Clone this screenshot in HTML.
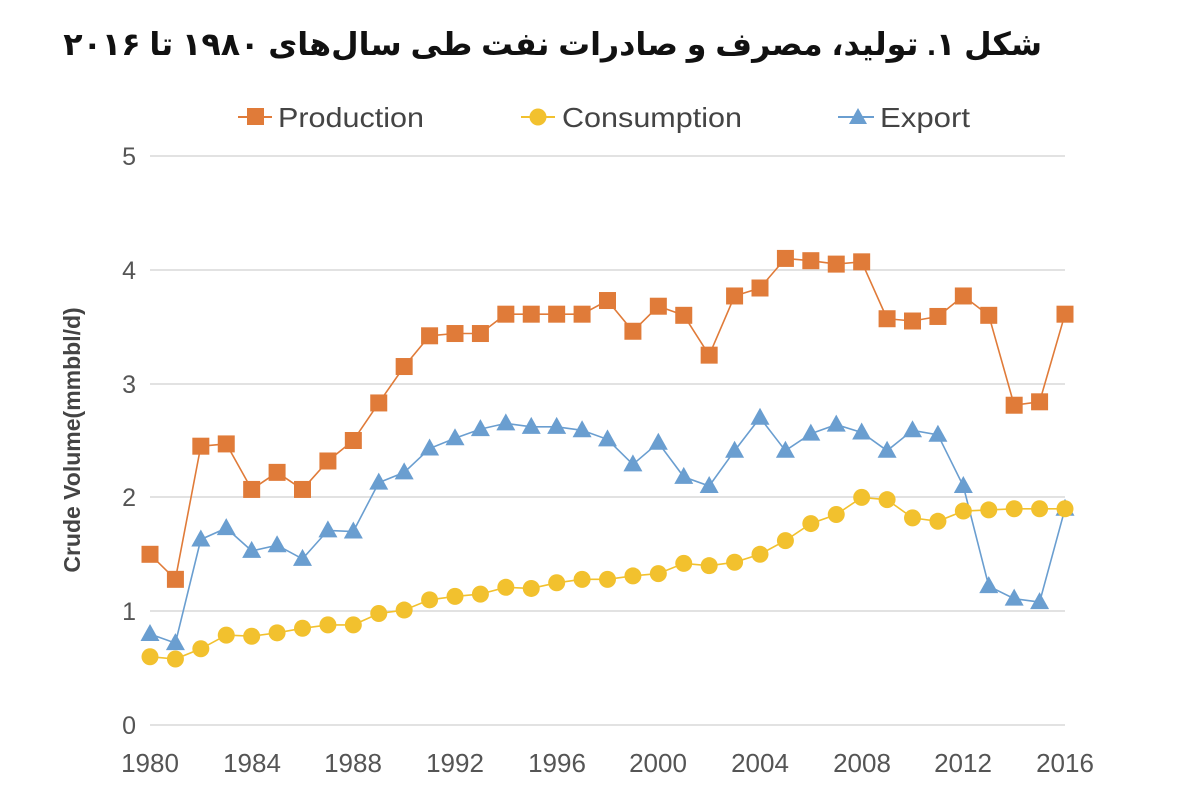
<!DOCTYPE html>
<html><head><meta charset="utf-8">
<style>
html,body{margin:0;padding:0;background:#fff;width:1200px;height:806px;overflow:hidden;position:relative}
svg{display:block}
#t{position:absolute;right:158px;top:26px;direction:rtl;text-align:right;white-space:nowrap;font-family:"Liberation Sans","Noto Sans CJK SC","DejaVu Sans",sans-serif;font-size:31.7px;font-weight:bold;color:#111}
</style></head>
<body>
<div id="t">شکل ۱. تولید، مصرف و صادرات نفت طی سال‌های ۱۹۸۰ تا ۲۰۱۶</div>
<svg id="s" width="1200" height="806" xmlns="http://www.w3.org/2000/svg">
<g font-family="'Liberation Sans',sans-serif" font-size="28" fill="#444">
<line x1="238" y1="117" x2="272" y2="117" stroke="#e07b39" stroke-width="2"/><rect x="247" y="108" width="17" height="17" fill="#e07b39"/>
<text x="278" y="127" textLength="146" lengthAdjust="spacingAndGlyphs">Production</text>
<line x1="521" y1="117" x2="555" y2="117" stroke="#f2c12e" stroke-width="2"/><circle cx="538" cy="117" r="8.5" fill="#f2c12e"/>
<text x="562" y="127" textLength="180" lengthAdjust="spacingAndGlyphs">Consumption</text>
<line x1="838" y1="117" x2="874" y2="117" stroke="#6a9ed0" stroke-width="2"/><polygon points="858,108 867,124 849,124" fill="#6a9ed0"/>
<text x="880" y="127" textLength="90" lengthAdjust="spacingAndGlyphs">Export</text>
</g>
<g stroke="#d9d9d9" stroke-width="1.5">
<line x1="150" y1="156" x2="1065" y2="156"/><line x1="150" y1="270" x2="1065" y2="270"/>
<line x1="150" y1="384" x2="1065" y2="384"/><line x1="150" y1="497" x2="1065" y2="497"/>
<line x1="150" y1="611" x2="1065" y2="611"/><line x1="150" y1="725" x2="1065" y2="725"/>
</g>
<g font-family="'Liberation Sans',sans-serif" font-size="25" fill="#555" text-anchor="end">
<text x="136" y="165">5</text><text x="136" y="279">4</text><text x="136" y="393">3</text>
<text x="136" y="506">2</text><text x="136" y="620">1</text><text x="136" y="734">0</text>
</g>
<g font-family="'Liberation Sans',sans-serif" font-size="26" fill="#555" text-anchor="middle">
<text x="150" y="772">1980</text><text x="252" y="772">1984</text><text x="353" y="772">1988</text>
<text x="455" y="772">1992</text><text x="557" y="772">1996</text><text x="658" y="772">2000</text>
<text x="760" y="772">2004</text><text x="862" y="772">2008</text><text x="963" y="772">2012</text>
<text x="1065" y="772">2016</text>
</g>
<text transform="translate(80,440) rotate(-90)" text-anchor="middle" font-family="'Liberation Sans',sans-serif" font-size="23" font-weight="bold" fill="#444">Crude Volume(mmbbl/d)</text>
<g id="series"></g>
</svg>
<script>
var P=[1.5,1.28,2.45,2.47,2.07,2.22,2.07,2.32,2.5,2.83,3.15,3.42,3.44,3.44,3.61,3.61,3.61,3.61,3.73,3.46,3.68,3.6,3.25,3.77,3.84,4.1,4.08,4.05,4.07,3.57,3.55,3.59,3.77,3.6,2.81,2.84,3.61];
var C=[0.6,0.58,0.67,0.79,0.78,0.81,0.85,0.88,0.88,0.98,1.01,1.1,1.13,1.15,1.21,1.2,1.25,1.28,1.28,1.31,1.33,1.42,1.4,1.43,1.5,1.62,1.77,1.85,2.0,1.98,1.82,1.79,1.88,1.89,1.9,1.9,1.9];
var E=[0.8,0.72,1.63,1.73,1.53,1.58,1.46,1.71,1.7,2.13,2.22,2.43,2.52,2.6,2.65,2.62,2.62,2.59,2.51,2.29,2.48,2.18,2.1,2.41,2.7,2.41,2.56,2.64,2.57,2.41,2.59,2.55,2.1,1.22,1.11,1.08,1.9];
function X(i){return 150+i*915/36}function Y(v){return 725-v*113.8}
var g=document.getElementById('series'),h='';
function line(d,c){h+='<polyline fill="none" stroke="'+c+'" stroke-width="1.6" points="'+d.map(function(v,i){return X(i).toFixed(1)+','+Y(v).toFixed(1)}).join(' ')+'"/>';}
line(P,'#e07b39');line(E,'#6a9ed0');line(C,'#f2c12e');
P.forEach(function(v,i){h+='<rect x="'+(X(i)-8.5)+'" y="'+(Y(v)-8.5)+'" width="17" height="17" fill="#e07b39"/>';});
E.forEach(function(v,i){var x=X(i),y=Y(v);h+='<polygon points="'+x+','+(y-10)+' '+(x+9.5)+','+(y+7)+' '+(x-9.5)+','+(y+7)+'" fill="#6a9ed0"/>';});
C.forEach(function(v,i){h+='<circle cx="'+X(i)+'" cy="'+Y(v)+'" r="8.5" fill="#f2c12e"/>';});
g.innerHTML=h;
</script>
</body></html>
